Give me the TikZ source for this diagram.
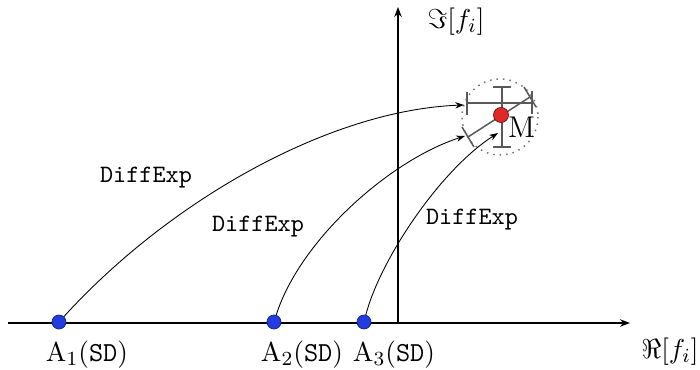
\documentclass[tikz,border=0pt]{standalone}
\usepackage{amsmath, amssymb}
\usetikzlibrary{arrows.meta}

\definecolor{dotblue}{RGB}{35,60,225}
\definecolor{dotred}{RGB}{225,40,40}

\tikzset{
  axis/.style = {line width=0.5pt, -{Stealth[length=4pt, width=3pt]}},
  flow/.style = {line width=0.35pt, -{Stealth[length=3.5pt, width=2.5pt]}},
  bar/.style = {line width=0.6pt, draw=black!65},
  sample/.style = {circle, fill=dotblue, draw=dotblue!60!black, line width=0.3pt,
    minimum size=5.6pt, inner sep=0pt},
  mean/.style = {circle, fill=dotred, draw=dotred!50!black, line width=0.3pt,
    minimum size=6pt, inner sep=0pt},
  lbl/.style = {inner sep=1pt, font=\fontsize{11}{13}\selectfont}
}

\begin{document}
\begin{tikzpicture}[x=0.4pt, y=-0.4pt]
  \useasboundingbox (0,0) rectangle (700,370);

  % axes
  \coordinate (xs) at (8,323);
  \coordinate (xe) at (630,323);
  \coordinate (ys) at (398,323);
  \coordinate (ye) at (398,7);
  \draw[axis] (xs) -- (xe);
  \draw[axis] (ys) -- (ye);
  \node[lbl] (re) at (670,352) {$\Re[f_i]$};
  \node[lbl] (im) at (456,22) {$\Im[f_i]$};

  % spread around the mean
  \draw[dotted, line width=0.6pt, black!55] (500,117) circle (38);
  \draw[bar] (467,103) -- (532,103);
  \draw[bar] (467,92) -- (467,115);
  \draw[bar] (532,91) -- (532,114);
  \draw[bar] (502,87) -- (502,147);
  \draw[bar] (493,87) -- (511,87);
  \draw[bar] (493,147) -- (511,147);
  \draw[bar] (468,137) -- (530,97);
  \draw[bar] (462,127) -- (474,147);
  \draw[bar] (524,87) -- (536,107);

  % points
  \node[mean] (M) at (501,115) {};
  \node[lbl, anchor=west, font=\large] (ml) at (505,127) {M};
  \node[sample] (A1) at (59,322) {};
  \node[sample] (A2) at (274,322) {};
  \node[sample] (A3) at (364,322) {};
  \node[lbl] (a1l) at (87,355) {$\mathrm{A}_1(\texttt{SD})$};
  \node[lbl] (a2l) at (302,355) {$\mathrm{A}_2(\texttt{SD})$};
  \node[lbl] (a3l) at (394,355) {$\mathrm{A}_3(\texttt{SD})$};

  % mappings
  \coordinate (t1) at (464,105);
  \coordinate (t2) at (465,136);
  \coordinate (t3) at (498,133);
  \draw[flow] (A1) .. controls (170,200) and (330,110) .. (t1);
  \draw[flow] (A2) .. controls (300,240) and (390,160) .. (t2);
  \draw[flow] (A3) .. controls (380,260) and (440,170) .. (t3);
  \node[lbl, font=\normalsize] (d1) at (146,178) {\texttt{DiffExp}};
  \node[lbl, font=\normalsize] (d2) at (258,227) {\texttt{DiffExp}};
  \node[lbl, font=\normalsize] (d3) at (472,220) {\texttt{DiffExp}};
\end{tikzpicture}
\end{document}
